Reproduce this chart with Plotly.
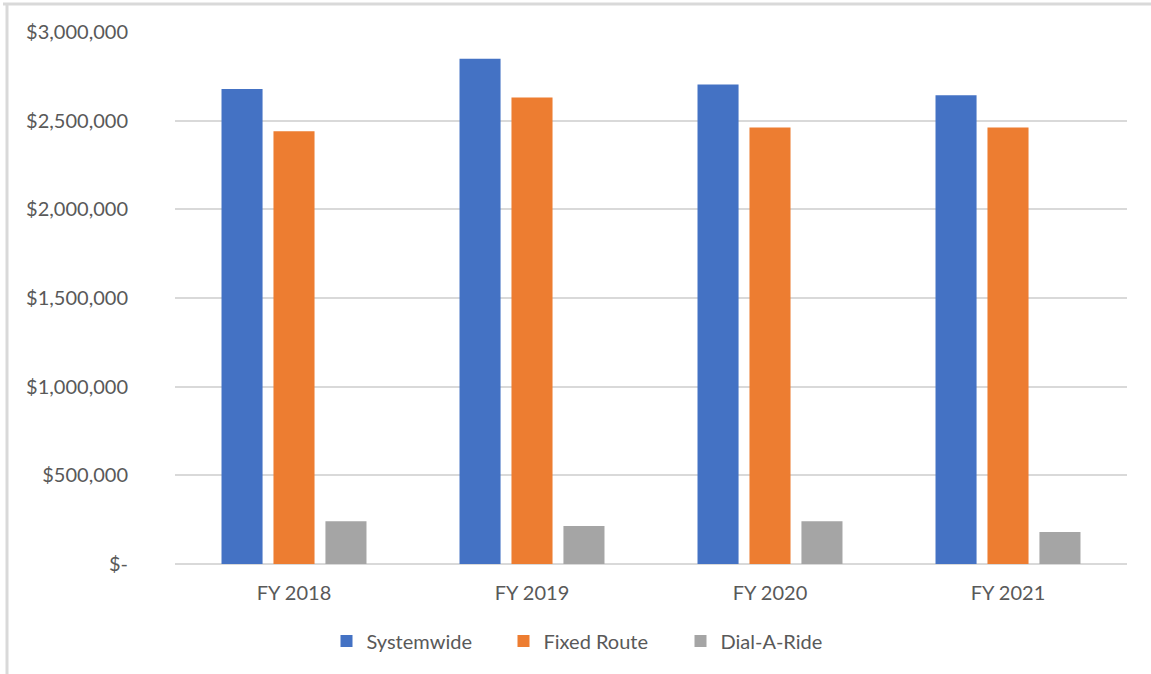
import plotly.graph_objects as go

# Annual totals by fiscal year
years = ["FY 2018", "FY 2019", "FY 2020", "FY 2021"]
systemwide = [2678000, 2849000, 2704000, 2644000]
fixed_route = [2441000, 2631000, 2462000, 2462000]
dial_a_ride = [241000, 214000, 241000, 180000]

tick_vals = [0, 500000, 1000000, 1500000, 2000000, 2500000, 3000000]
tick_text = ["$-", "$500,000", "$1,000,000", "$1,500,000", "$2,000,000", "$2,500,000", "$3,000,000"]

FONT = "Lato, 'Liberation Sans', sans-serif"
GRID = "#d9d9d9"

fig = go.Figure()
for name, vals, color in [
    ("Systemwide", systemwide, "#4472C4"),
    ("Fixed Route", fixed_route, "#ED7D31"),
    ("Dial-A-Ride", dial_a_ride, "#A5A5A5"),
]:
    fig.add_trace(go.Bar(x=years, y=vals, name=name,
                         marker=dict(color=color, line=dict(width=0))))

W, H = 1151, 674
L, R, T, B = 175, 24, 32, 110
pw, ph = W - L - R, H - T - B

def px_x(x):
    return (x - L) / pw

def px_y(y):
    return (H - B - y) / ph

fig.update_layout(
    width=W, height=H,
    margin=dict(l=L, r=R, t=T, b=B),
    paper_bgcolor="white", plot_bgcolor="white",
    barmode="group", bargap=0.345, bargroupgap=0.21,
    font=dict(family=FONT, size=20, color="#595959"),
    xaxis=dict(showgrid=False, showline=False, ticks="", tickfont=dict(size=20),
               ticklabelstandoff=15),
    yaxis=dict(range=[0, 3000000], tickvals=tick_vals, ticktext=tick_text,
               showgrid=True, gridcolor=GRID, gridwidth=2,
               zeroline=True, zerolinecolor=GRID, zerolinewidth=2,
               showline=False, ticks="", tickfont=dict(size=20),
               ticklabelstandoff=46),
    legend=dict(orientation="h", x=px_x(592), xanchor="center",
                y=px_y(641), yanchor="middle",
                font=dict(size=20, color="#595959"),
                entrywidth=132, traceorder="normal"),
    shapes=[
        # chart frame (top and left edges)
        dict(type="line", xref="paper", yref="paper",
             x0=px_x(3), x1=px_x(W + 5), y0=px_y(4), y1=px_y(4),
             line=dict(color=GRID, width=3)),
        dict(type="line", xref="paper", yref="paper",
             x0=px_x(7), x1=px_x(7), y0=px_y(4), y1=px_y(H + 5),
             line=dict(color=GRID, width=3)),
    ],
)

fig.write_html("out.html")
